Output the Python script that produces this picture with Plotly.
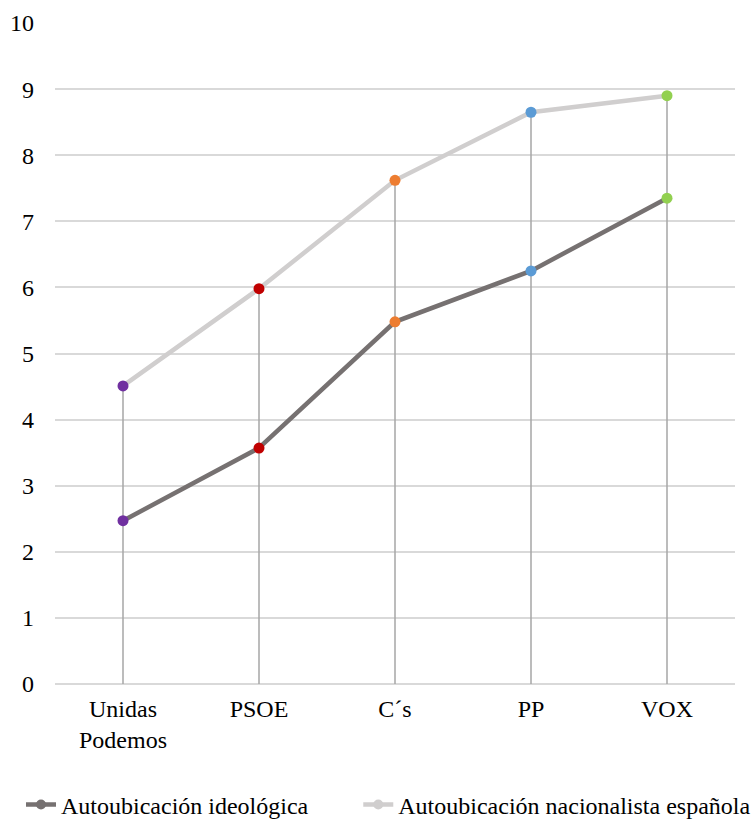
import plotly.graph_objects as go

categories = ["Unidas<br>Podemos", "PSOE", "C´s", "PP", "VOX"]
ideologica = [2.47, 3.57, 5.48, 6.25, 7.35]
nacionalista = [4.51, 5.98, 7.62, 8.65, 8.90]
party_colors = ["#7030A0", "#C00000", "#ED7D31", "#5B9BD5", "#92D050"]
series_names = ["Autoubicación ideológica", "Autoubicación nacionalista española"]
line_colors = ["#767171", "#D0CECE"]

FONT = "Liberation Serif"

fig = go.Figure()

# drop lines from highest point to axis
dx, dy = [], []
for c, a, b in zip(categories, ideologica, nacionalista):
    dx += [c, c, None]
    dy += [0, max(a, b), None]
fig.add_trace(go.Scatter(x=dx, y=dy, mode="lines", line=dict(color="#A6A6A6", width=1.5),
                         showlegend=False, hoverinfo="skip"))

for vals, name, lc in [(nacionalista, series_names[1], line_colors[1]),
                       (ideologica, series_names[0], line_colors[0])]:
    fig.add_trace(go.Scatter(x=categories, y=vals, mode="lines+markers", name=name,
                             line=dict(color=lc, width=4.5),
                             marker=dict(color=party_colors, size=11),
                             showlegend=False))

for name, lc, lg in zip(series_names, line_colors, ["legend", "legend2"]):
    fig.add_trace(go.Scatter(x=[None], y=[None], mode="lines+markers", name=name,
                             line=dict(color=lc, width=4.5),
                             marker=dict(color=lc, size=10), legend=lg))

legend_common = dict(orientation="h", xanchor="left", y=-0.183, yanchor="middle",
                     font=dict(family=FONT, size=24, color="#000000"),
                     bgcolor="rgba(0,0,0,0)")

fig.update_layout(
    width=754, height=821,
    margin=dict(l=55, r=19, t=23, b=137, autoexpand=False),
    paper_bgcolor="white", plot_bgcolor="white",
    font=dict(family=FONT, size=24, color="#000000"),
    showlegend=True,
    legend=dict(x=-0.05, **legend_common),
    legend2=dict(x=0.446, **legend_common),
    xaxis=dict(type="category", categoryorder="array", categoryarray=categories,
               range=[-0.5, 4.5],
               showgrid=False, zeroline=False, showline=False, ticks="",
               ticklabelstandoff=8,
               tickfont=dict(family=FONT, size=24)),
    yaxis=dict(range=[0, 10], dtick=1, showgrid=True, gridcolor="#D9D9D9", gridwidth=1.5,
               zeroline=True, zerolinecolor="#D9D9D9", zerolinewidth=1.5,
               showline=False, ticks="", ticklabelstandoff=20,
               tickfont=dict(family=FONT, size=24)),
)

fig.write_html("out.html")
